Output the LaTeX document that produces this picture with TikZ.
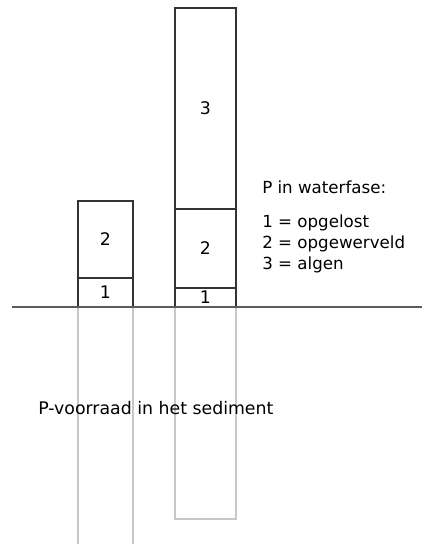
\documentclass[tikz,border=0pt]{standalone}
\usepackage{fontspec}
\setmainfont{DejaVu Sans}
\usepackage{tikz}
\usetikzlibrary{
  positioning
}
\definecolor{BarLine}{HTML}{333333}
\definecolor{GroundLine}{HTML}{5C5C5C}
\definecolor{SedLine}{HTML}{C8C8C8}
\tikzset{
  segment/.style={
    draw=BarLine,
    line width=0.9pt,
    inner sep=0pt,
    outer sep=0pt,
    align=center,
    font=\fontsize{13}{15}\selectfont
  },
  leftbar/.style={
    segment,
    minimum width=41.25pt
  },
  rightbar/.style={
    segment,
    minimum width=45.75pt
  },
  sediment/.style={
    draw=SedLine,
    line width=0.8pt
  },
  ground/.style={
    draw=GroundLine,
    line width=1.1pt
  },
  legend/.style={
    inner sep=0pt,
    anchor=base west,
    font=\fontsize{12.5}{15}\selectfont
  }
}

\begin{document}
\begin{tikzpicture}[x=0.75pt, y=-0.75pt]

  \useasboundingbox (0,0) rectangle (422,544);

  % bars in the water
  \node[
    leftbar,
    minimum height=21.75pt,
    anchor=south west
  ] (lone) at (78,307) {1};

  \node[
    leftbar,
    minimum height=57.75pt,
    above=0pt of lone
  ] (ltwo) {2};

  \node[
    rightbar,
    minimum height=14.25pt,
    anchor=south west
  ] (rone) at (175,307) {1};

  \node[
    rightbar,
    minimum height=59.25pt,
    above=0pt of rone
  ] (rtwo) {2};

  \node[
    rightbar,
    minimum height=150.75pt,
    above=0pt of rtwo
  ] (rthree) {3};

  % sediment
  \coordinate (bottom) at (0,544);
  \coordinate (sedend) at (0,519);

  \draw[sediment]
  (lone.south west) --
  (lone.south west |- bottom);

  \draw[sediment]
  (lone.south east) --
  (lone.south east |- bottom);

  \draw[sediment]
  (rone.south west) --
  (rone.south west |- sedend) --
  (rone.south east |- sedend) --
  (rone.south east);

  \coordinate (gleft) at (12,307);
  \coordinate (gright) at (422,307);

  \draw[ground]
  (gleft) --
  (gright);

  % legend
  \node[legend] (title) at (262,193) {P in waterfase:};
  \node[legend] (itemone) at (262,227) {1 = opgelost};
  \node[legend] (itemtwo) at (262,248) {2 = opgewerveld};
  \node[legend] (itemthree) at (262,269) {3 = algen};

  \node[
    legend,
    font=\fontsize{13}{15}\selectfont
  ] (sedlabel) at (38,414) {P-voorraad in het sediment};

\end{tikzpicture}
\end{document}
